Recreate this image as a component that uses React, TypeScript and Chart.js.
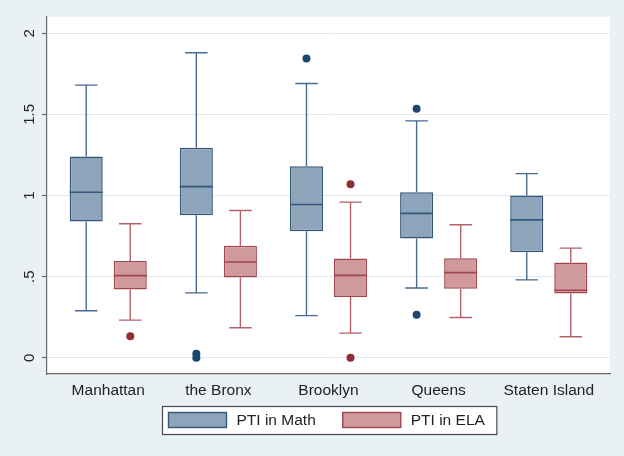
import React, { useEffect, useRef } from 'react';
import { Chart, registerables } from 'chart.js';

Chart.register(...registerables);

// ---- data ----
const categories = ['Manhattan', 'the Bronx', 'Brooklyn', 'Queens', 'Staten Island'];

const mathMin = [0.29, 0.4, 0.26, 0.43, 0.48];
const mathQ1 = [0.84, 0.878, 0.78, 0.735, 0.65];
const mathMedian = [1.02, 1.055, 0.945, 0.89, 0.85];
const mathQ3 = [1.24, 1.295, 1.18, 1.02, 1.0];
const mathMax = [1.68, 1.88, 1.69, 1.46, 1.135];
const mathOutlierCat = [1, 1, 2, 3, 3];
const mathOutlierValue = [0.025, 0.0, 1.845, 1.535, 0.265];

const elaMin = [0.232, 0.185, 0.152, 0.248, 0.13];
const elaQ1 = [0.42, 0.494, 0.375, 0.425, 0.396];
const elaMedian = [0.506, 0.59, 0.508, 0.525, 0.416];
const elaQ3 = [0.596, 0.69, 0.611, 0.613, 0.587];
const elaMax = [0.826, 0.908, 0.959, 0.82, 0.676];
const elaOutlierCat = [0, 2, 2];
const elaOutlierValue = [0.133, 1.07, 0.0];

const yTickValues = [0, 0.5, 1, 1.5, 2];
const seriesLabels = ['PTI in Math', 'PTI in ELA'];

// ---- style ----
const FONT = '"Liberation Sans", Arial, Helvetica, sans-serif';
const BG = 'rgb(234,241,244)';
const MATH_FILL = 'rgb(142,164,187)';
const MATH_EDGE = 'rgb(52,86,122)';
const MATH_WHISK = 'rgb(72,106,142)';
const MATH_DOT = 'rgb(26,71,111)';
const ELA_FILL = 'rgb(208,153,158)';
const ELA_EDGE = 'rgb(160,70,78)';
const ELA_WHISK = 'rgb(178,98,105)';
const ELA_DOT = 'rgb(144,46,55)';
const GROUP_OFFSET = 0.2;

const fmtY = (v: number) => (v === 0 ? '0' : String(v).replace(/^0\./, '.'));

const bgPlugin = {
  id: 'bgPlugin',
  beforeDraw(chart: any) {
    const { ctx, chartArea: a } = chart;
    ctx.save();
    ctx.fillStyle = BG;
    ctx.fillRect(0, 0, chart.width, chart.height);
    ctx.fillStyle = '#ffffff';
    ctx.fillRect(a.left, a.top, a.right - a.left, a.bottom - a.top);
    ctx.restore();
  },
};

const whiskerPlugin = {
  id: 'whiskerPlugin',
  afterDatasetsDraw(chart: any) {
    const { ctx } = chart;
    const ys = chart.scales.y;
    chart.data.datasets.forEach((ds: any, di: number) => {
      if (!ds.stats) return;
      const meta = chart.getDatasetMeta(di);
      meta.data.forEach((bar: any, i: number) => {
        const { x, width } = bar.getProps(['x', 'width'], true);
        const yMin = ys.getPixelForValue(ds.stats.min[i]);
        const yMax = ys.getPixelForValue(ds.stats.max[i]);
        const yQ1 = ys.getPixelForValue(ds.stats.q1[i]);
        const yQ3 = ys.getPixelForValue(ds.stats.q3[i]);
        const yMed = ys.getPixelForValue(ds.stats.median[i]);
        const capHalf = width * 0.34;
        ctx.save();
        ctx.strokeStyle = ds.whiskerColor;
        ctx.lineWidth = 1.4;
        ctx.beginPath();
        ctx.moveTo(x, yQ3);
        ctx.lineTo(x, yMax);
        ctx.moveTo(x - capHalf, yMax);
        ctx.lineTo(x + capHalf, yMax);
        ctx.moveTo(x, yQ1);
        ctx.lineTo(x, yMin);
        ctx.moveTo(x - capHalf, yMin);
        ctx.lineTo(x + capHalf, yMin);
        ctx.stroke();
        ctx.strokeStyle = ds.borderColor;
        ctx.lineWidth = 1.6;
        ctx.beginPath();
        ctx.moveTo(x - width / 2, yMed);
        ctx.lineTo(x + width / 2, yMed);
        ctx.stroke();
        ctx.restore();
      });
    });
  },
};

const labelPlugin = {
  id: 'labelPlugin',
  afterDraw(chart: any) {
    const { ctx, chartArea: a } = chart;
    const ys = chart.scales.y;
    ctx.save();
    // rotated y tick labels
    ctx.font = `15px ${FONT}`;
    ctx.fillStyle = '#222';
    ctx.textAlign = 'center';
    ctx.textBaseline = 'middle';
    ys.ticks.forEach((t: any) => {
      const py = ys.getPixelForValue(t.value);
      ctx.save();
      ctx.translate(30, py);
      ctx.rotate(-Math.PI / 2);
      ctx.fillText(fmtY(t.value), 0, 0);
      ctx.restore();
    });
    // legend
    const items = chart.data.datasets.filter((d: any) => d.inLegend);
    ctx.font = `15.5px ${FONT}`;
    const swW = 58, swH = 15, padL = 6, padR = 12, gap = 10, itemGap = 27, h = 28;
    const widths = items.map((d: any) => ctx.measureText(d.label).width);
    let total = padL + padR;
    widths.forEach((w: number, i: number) => {
      total += swW + gap + w + (i > 0 ? itemGap : 0);
    });
    const cx = (a.left + a.right) / 2 + 1;
    const left = Math.round(cx - total / 2) + 0.5;
    const top = Math.round(a.bottom + 32) + 0.5;
    ctx.fillStyle = '#ffffff';
    ctx.fillRect(left, top, total, h);
    ctx.strokeStyle = '#4a4a4a';
    ctx.lineWidth = 1.2;
    ctx.strokeRect(left, top, total, h);
    let x = left + padL;
    items.forEach((d: any, i: number) => {
      if (i > 0) x += itemGap;
      ctx.fillStyle = d.backgroundColor;
      ctx.fillRect(x, top + 6, swW, swH);
      ctx.strokeStyle = d.borderColor;
      ctx.lineWidth = 1.4;
      ctx.strokeRect(x, top + 6, swW, swH);
      x += swW + gap;
      ctx.fillStyle = '#222';
      ctx.textAlign = 'left';
      ctx.textBaseline = 'middle';
      ctx.fillText(d.label, x, top + h / 2 + 0.5);
      x += widths[i];
    });
    ctx.restore();
  },
};

export default function App() {
  const ref = useRef<HTMLCanvasElement | null>(null);

  useEffect(() => {
    if (!ref.current) return;
    const mathBoxes = categories.map((_, i) => ({ x: i, y: [mathQ1[i], mathQ3[i]] }));
    const elaBoxes = categories.map((_, i) => ({ x: i, y: [elaQ1[i], elaQ3[i]] }));
    const mathOut = mathOutlierCat.map((c, i) => ({ x: c - GROUP_OFFSET, y: mathOutlierValue[i] }));
    const elaOut = elaOutlierCat.map((c, i) => ({ x: c + GROUP_OFFSET, y: elaOutlierValue[i] }));

    const chart = new Chart(ref.current, {
      type: 'bar',
      data: {
        datasets: [
          {
            type: 'bar',
            label: seriesLabels[0],
            data: mathBoxes as any,
            backgroundColor: MATH_FILL,
            borderColor: MATH_EDGE,
            borderWidth: 1.5,
            borderSkipped: false,
            categoryPercentage: 0.8,
            barPercentage: 0.75,
            inLegend: true,
            whiskerColor: MATH_WHISK,
            stats: { min: mathMin, q1: mathQ1, median: mathMedian, q3: mathQ3, max: mathMax },
          } as any,
          {
            type: 'bar',
            label: seriesLabels[1],
            data: elaBoxes as any,
            backgroundColor: ELA_FILL,
            borderColor: ELA_EDGE,
            borderWidth: 1.5,
            borderSkipped: false,
            categoryPercentage: 0.8,
            barPercentage: 0.75,
            inLegend: true,
            whiskerColor: ELA_WHISK,
            stats: { min: elaMin, q1: elaQ1, median: elaMedian, q3: elaQ3, max: elaMax },
          } as any,
          {
            type: 'scatter',
            label: 'Math outliers',
            data: mathOut,
            backgroundColor: MATH_DOT,
            borderWidth: 0,
            pointRadius: 4,
          } as any,
          {
            type: 'scatter',
            label: 'ELA outliers',
            data: elaOut,
            backgroundColor: ELA_DOT,
            borderWidth: 0,
            pointRadius: 4,
          } as any,
        ],
      },
      options: {
        responsive: false,
        animation: false,
        devicePixelRatio: 1,
        layout: { padding: { left: 0, right: 14, top: 17, bottom: 0 } },
        plugins: {
          legend: { display: false },
          tooltip: { enabled: false },
        },
        scales: {
          x: {
            type: 'linear',
            offset: false,
            min: -0.556,
            max: 4.556,
            afterBuildTicks: (scale: any) => {
              scale.ticks = categories.map((_, i) => ({ value: i }));
            },
            afterFit: (scale: any) => {
              scale.height = 82;
            },
            grid: { display: false, drawTicks: false, offset: false },
            border: { display: true, color: '#6a6a6a', width: 1.2 },
            ticks: {
              autoSkip: false,
              maxRotation: 0,
              padding: 7,
              color: '#222',
              font: { family: FONT, size: 15.5 },
              callback: (v: any) => categories[v as number] ?? '',
            },
          },
          y: {
            type: 'linear',
            min: -0.1,
            max: 2.1,
            afterBuildTicks: (scale: any) => {
              scale.ticks = yTickValues.map((v) => ({ value: v }));
            },
            afterFit: (scale: any) => {
              scale.width = 47;
            },
            grid: {
              color: 'rgb(226,233,237)',
              lineWidth: 1,
              drawTicks: true,
              tickLength: 5,
              tickColor: '#6a6a6a',
              tickWidth: 1.2,
            },
            border: { display: true, color: '#6a6a6a', width: 1.2 },
            ticks: { display: false },
          },
        },
      } as any,
      plugins: [bgPlugin, whiskerPlugin, labelPlugin],
    });
    return () => chart.destroy();
  }, []);

  return (
    <div style={{ position: 'fixed', left: 0, top: 0, width: 624, height: 456 }}>
      <canvas ref={ref} width={624} height={456} />
    </div>
  );
}
